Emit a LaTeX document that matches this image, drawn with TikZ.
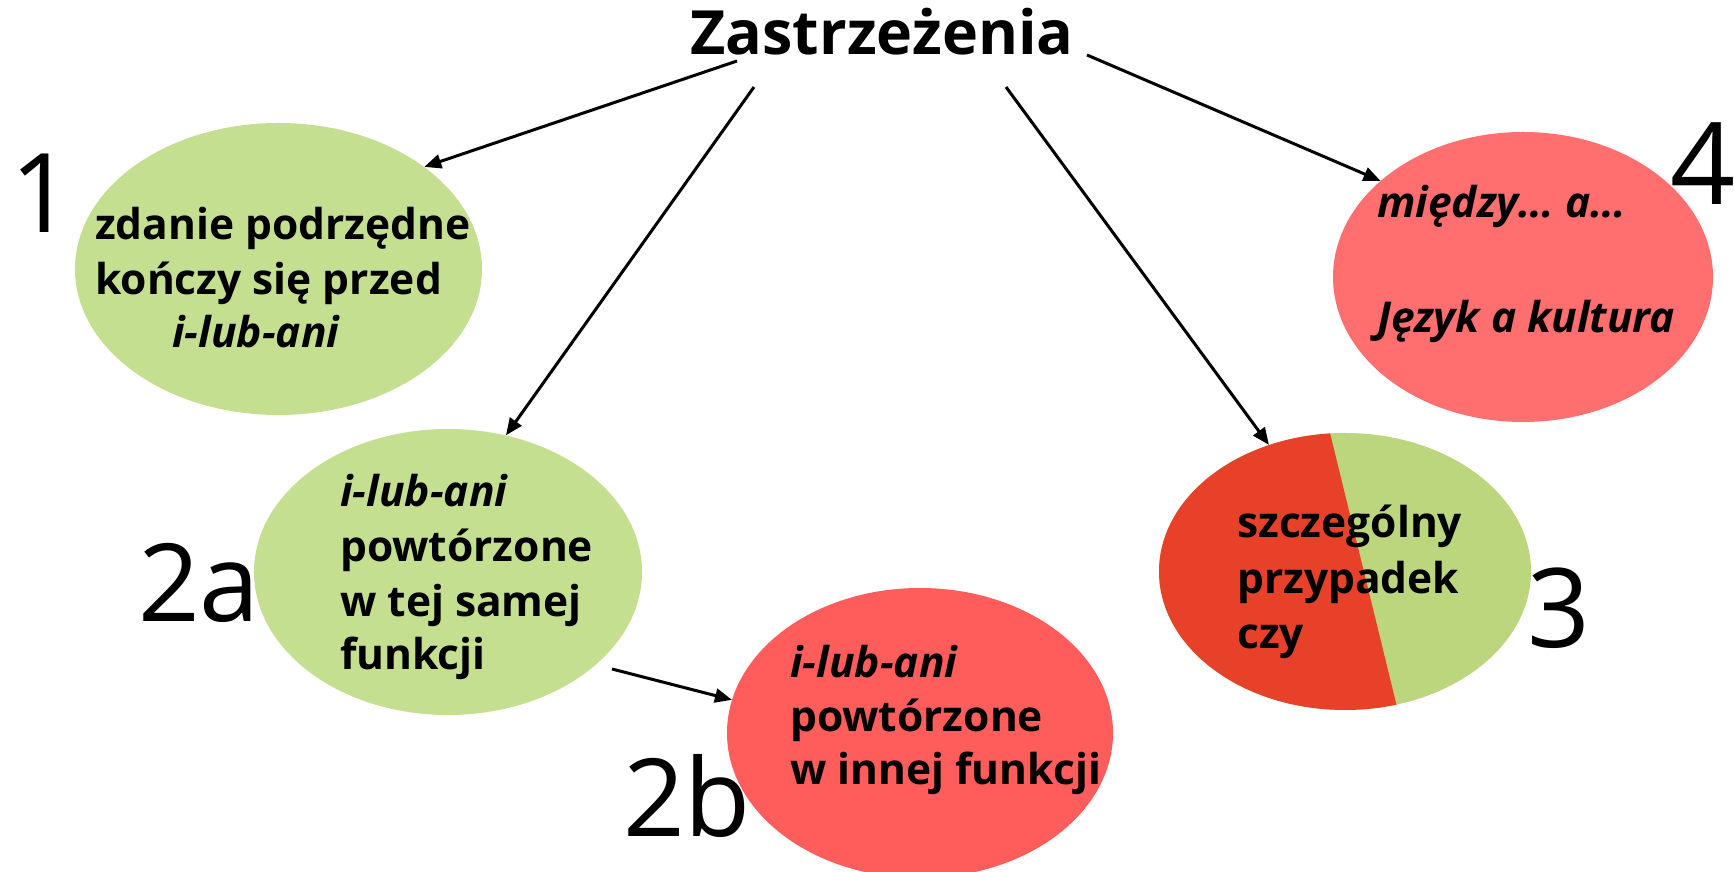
\documentclass[tikz,border=0pt]{standalone}
\usepackage{fontspec}
\setmainfont{Open Sans}
\usetikzlibrary{arrows.meta,shapes.geometric}
\definecolor{softgreen}{HTML}{C5DF91}
\definecolor{midgreen}{HTML}{BBD67D}
\definecolor{deepred}{HTML}{E8412A}
\definecolor{salmon}{HTML}{FF5C5C}
\definecolor{rosered}{HTML}{FF6F6F}
\newcommand\bodyfont{\fontsize{42.5}{48}\selectfont\bfseries}
\newcommand\titlefont{\fontsize{61}{64}\selectfont\bfseries}
\newcommand\numfont[1]{\fontsize{#1}{#1}\selectfont}
\begin{document}
\begin{tikzpicture}[x=1pt,y=1pt,
  bubble/.style={ellipse, draw=none, inner sep=0pt},
  line/.style={anchor=base west, inner sep=0pt, font=\bodyfont},
  itline/.style={line, font=\bodyfont\itshape},
  numlabel/.style={anchor=base west, inner sep=0pt},
  conn/.style={line width=3pt, -{Triangle[length=17pt,width=14pt]}}]
\useasboundingbox (0,0) rectangle (1734,872);
\fill[white] (0,0) rectangle (1734,872);

% title
\node[anchor=base, inner sep=0pt, font=\titlefont] (title) at (882,817) {Zastrzeżenia};

% ellipses
\node[bubble, fill=softgreen, minimum width=407pt, minimum height=292pt] (e1) at (278.5,603) {};
\node[bubble, fill=softgreen, minimum width=388pt, minimum height=286pt] (e2a) at (448,300) {};
\node[bubble, fill=salmon, minimum width=386pt, minimum height=290pt] (e2b) at (920,139) {};
\node[bubble, fill=rosered, minimum width=380pt, minimum height=290pt] (e4) at (1523,595) {};
\node[bubble, fill=midgreen, minimum width=372pt, minimum height=277pt] (e3) at (1345,300.5) {};
% left part of ellipse 3 in red
\begin{scope}
  \clip (1345,300.5) ellipse [x radius=186, y radius=138.5];
  \fill[deepred] (1100,480) -- (1320,480) -- (1408,120) -- (1100,120) -- cycle;
\end{scope}

% texts
\node[line] (t1a) at (95,632) {zdanie podrzędne};
\node[line] (t1b) at (95,577) {kończy się przed};
\node[itline] (t1c) at (172,524) {i-lub-ani};

\node[itline] (t2a) at (340,365) {i-lub-ani};
\node[line] (t2b) at (340,310) {powtórzone};
\node[line] (t2c) at (340,255) {w tej samej};
\node[line] (t2d) at (340,202) {funkcji};

\node[itline] (t3a) at (790,194) {i-lub-ani};
\node[line] (t3b) at (790,140) {powtórzone};
\node[line] (t3c) at (790,87) {w innej funkcji};

\node[line] (t4a) at (1237,334) {szczególny};
\node[line] (t4b) at (1237,278) {przypadek};
\node[line] (t4c) at (1237,223) {czy};

\node[itline] (t5a) at (1377,654) {między… a…};
\node[itline] (t5b) at (1377,539) {Język a kultura};

% numbers
\node[numlabel, font=\numfont{110}] (n1) at (10,639) {1};
\node[numlabel, font=\numfont{108}] (n2a) at (138,250) {2a};
\node[numlabel, font=\numfont{108}] (n2b) at (623,35) {2b};
\node[numlabel, font=\numfont{110}] (n3) at (1527,224) {3};
\node[anchor=base east, inner sep=0pt, font=\numfont{114}] (n4) at (1736,667) {4};

% connectors
\coordinate (s1) at (737,811);
\coordinate (s2) at (754,785);
\coordinate (s3) at (1006,785);
\coordinate (s4) at (1087,817);
\coordinate (s5) at (612,203);
\draw[conn] (s1) -- (e1.35.2);
\draw[conn] (s2) -- (e2a.67);
\draw[conn] (s3) -- (e3.121.5);
\draw[conn] (s4) -- (e4.146.4);
\draw[conn] (s5) -- (e2b.170.9);
\end{tikzpicture}
\end{document}
